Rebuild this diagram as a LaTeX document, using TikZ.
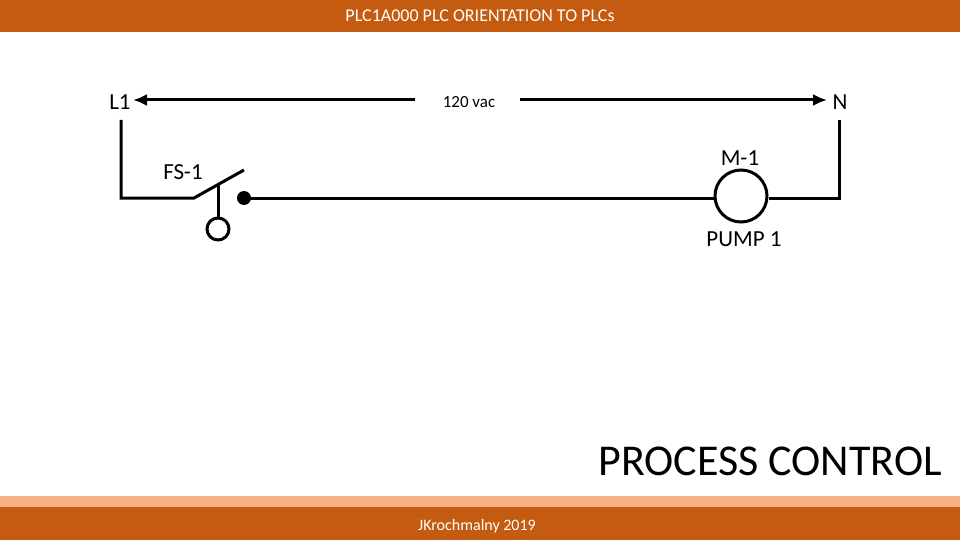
\documentclass[tikz,border=0pt]{standalone}
\usepackage{fontspec}
\setmainfont{Carlito}
\usetikzlibrary{arrows.meta}
\definecolor{dk}{HTML}{C55A11}
\definecolor{lt}{HTML}{F4B183}
\begin{document}
\begin{tikzpicture}[x=1pt,y=-1pt,wire/.style={line width=3pt},arr/.style={line width=3pt,-{Latex[length=14pt,width=12pt]}},lbl/.style={font=\fontsize{23}{25}\selectfont}]
\useasboundingbox (0,0) rectangle (960,540);
\fill[dk] (0,0) rectangle (960,32);
\fill[lt] (0,496) rectangle (960,507);
\fill[dk] (0,507) rectangle (960,540);
\node[text=white,font=\fontsize{18}{20}\selectfont] (title) at (480,16) {PLC1A000 PLC ORIENTATION TO PLCs};
\node[text=white,font=\fontsize{16}{18}\selectfont] (foot) at (477,526) {JKrochmalny 2019};
\node[lbl] (L1) at (120,102) {L1};
\node[lbl] (N) at (840,102) {N};
\node[font=\fontsize{17}{19}\selectfont] (v) at (469,102) {120 vac};
\coordinate (va) at (415,100);
\coordinate (vl) at (133,100);
\coordinate (vb) at (520,100);
\coordinate (vr) at (827,100);
\draw[arr] (va) -- (vl);
\draw[arr] (vb) -- (vr);
\node[lbl] (fs) at (183,172) {FS-1};
\node[lbl] (m1) at (740,158) {M-1};
\node[lbl] (p1) at (744,239) {PUMP 1};
\node[font=\fontsize{44}{48}\selectfont] (pc) at (770,461) {PROCESS CONTROL};
\coordinate (a) at (121,120);
\coordinate (b) at (121,198);
\coordinate (c) at (194,198);
\coordinate (d) at (244,170);
\coordinate (s) at (218,184);
\node[draw,circle,line width=3pt,minimum size=22pt,inner sep=0] (sc) at (218,229) {};
\fill (244,198) circle (7) coordinate (dot);
\node[draw,circle,line width=3pt,minimum size=52pt,inner sep=0] (mot) at (741,196) {};
\coordinate (e) at (839,198);
\coordinate (f) at (839,120);
\draw[wire] (a) -- (b) -- (c) -- (d);
\draw[wire] (s) -- (sc.north);
\draw[wire] (dot) -- (mot.west|-dot);
\draw[wire] (mot.east|-e) -- (e) -- (f);
\end{tikzpicture}
\end{document}
